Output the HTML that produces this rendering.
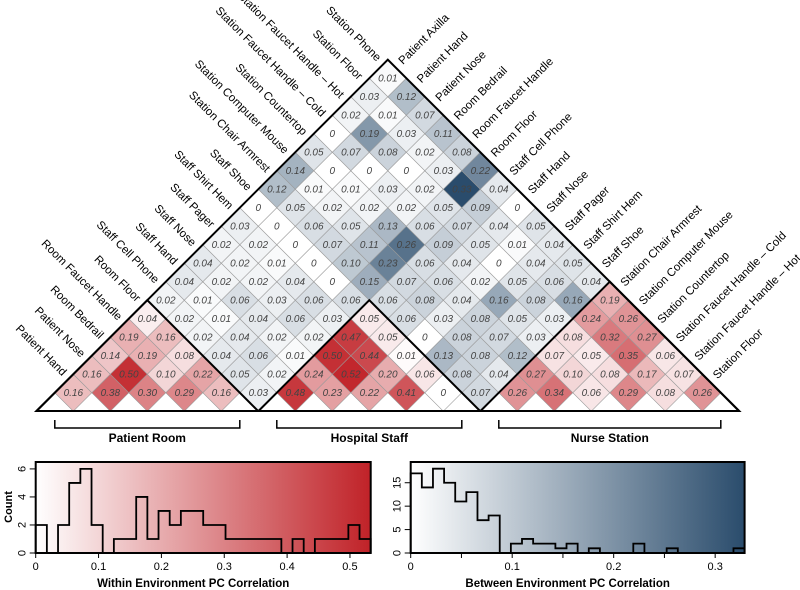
<!DOCTYPE html>
<html><head><meta charset="utf-8"><style>
html,body{margin:0;padding:0;background:#fff;}
svg{display:block;font-family:"Liberation Sans",sans-serif;}
</style></head><body>
<svg id="chart" width="800" height="590" viewBox="0 0 800 590" xmlns="http://www.w3.org/2000/svg">
<defs>
<linearGradient id="redGrad" x1="0" x2="1" y1="0" y2="0"><stop offset="0" stop-color="#ffffff"/><stop offset="1" stop-color="rgb(192,34,40)"/></linearGradient>
<linearGradient id="blueGrad" x1="0" x2="1" y1="0" y2="0"><stop offset="0" stop-color="#ffffff"/><stop offset="1" stop-color="rgb(42,76,108)"/></linearGradient>
</defs>
<g id="cells"></g>
<g id="outlines"></g>
<g id="labels"></g>
<g id="groups"></g>
<g id="histL"></g>
<g id="histR"></g>
</svg>
<script>
const variables = ["Patient Axilla","Patient Hand","Patient Nose","Room Bedrail","Room Faucet Handle","Room Floor","Staff Cell Phone","Staff Hand","Staff Nose","Staff Pager","Staff Shirt Hem","Staff Shoe","Station Chair Armrest","Station Computer Mouse","Station Countertop","Station Faucet Handle \u2013 Cold","Station Faucet Handle \u2013 Hot","Station Floor","Station Phone"];
const groupNames = ["Patient Room","Hospital Staff","Nurse Station"];
const groupStart = [0,6,12];
const groupEnd = [5,11,18];
const row1 = [0.16,0.38,0.30,0.29,0.16,0.03,0.48,0.23,0.22,0.41,0,0.07,0.26,0.34,0.06,0.29,0.08,0.26];
const row2 = [0.16,0.50,0.10,0.22,0.05,0.02,0.24,0.52,0.20,0.06,0.08,0.04,0.27,0.10,0.08,0.17,0.07];
const row3 = [0.14,0.19,0.08,0.04,0.06,0.01,0.50,0.44,0.01,0.13,0.08,0.12,0.07,0.05,0.35,0.06];
const row4 = [0.19,0.16,0.02,0.04,0.02,0.02,0.47,0.05,0,0.08,0.07,0.03,0.08,0.32,0.27];
const row5 = [0.04,0.02,0.01,0.04,0.06,0.03,0.05,0.06,0.03,0.08,0.05,0.03,0.24,0.26];
const row6 = [0.02,0.01,0.06,0.03,0.06,0.06,0.06,0.08,0.04,0.16,0.08,0.16,0.19];
const row7 = [0.04,0.02,0.02,0.04,0,0.15,0.07,0.06,0.02,0.05,0.06,0.04];
const row8 = [0.04,0.02,0.01,0,0.10,0.23,0.06,0.04,0,0.04,0.05];
const row9 = [0.02,0.02,0,0.07,0.11,0.26,0.09,0.05,0.01,0.04];
const row10 = [0.03,0,0.06,0.05,0.13,0.06,0.07,0.04,0.05];
const row11 = [0,0.05,0.02,0.02,0.02,0.05,0.09,0];
const row12 = [0.12,0.01,0.01,0.03,0.02,0.33,0.04];
const row13 = [0.14,0,0,0,0.03,0.22];
const row14 = [0.05,0.07,0.08,0.02,0.08];
const row15 = [0,0.19,0.03,0.11];
const row16 = [0.02,0.01,0.07];
const row17 = [0.03,0.12];
const row18 = [0.01];
const withinCounts = [2,0,2,5,6,2,0,1,1,4,1,3,2,3,3,2,2,1,1,1,1,1,0,1,0,1,1,1,2,1];
const betweenCounts = [17,14,18,15,11,13,7,8,0,2,3,2,2,1,2,0,1,0,0,0,2,0,0,1,0,0,0,0,0,1];
const withinMax = 0.533;
const betweenMax = 0.329;
const withinXTicks = [0,0.1,0.2,0.3,0.4,0.5];
const betweenXTicks = [0,0.1,0.2,0.3];
const betweenMinorTicks = [0.05,0.15,0.25];
const withinYTicks = [0,2,4,6];
const betweenYTicks = [0,5,10,15];

const rows = [row1,row2,row3,row4,row5,row6,row7,row8,row9,row10,row11,row12,row13,row14,row15,row16,row17,row18];
const NS = "http://www.w3.org/2000/svg";
function mk(tag, attrs, parent){const e=document.createElementNS(NS,tag);for(const k in attrs)e.setAttribute(k,attrs[k]);parent.appendChild(e);return e;}
const X0=73.3, STEP=37, H=18.5, Y0=392.7, BASE=411;
function cx(i,j){return X0+(i+j-1)/2*STEP;}
function cy(i,j){return Y0-(j-i-1)*H;}
function groupOf(k){for(let g=0;g<3;g++)if(k>=groupStart[g]&&k<=groupEnd[g])return g;return -1;}
function mix(c,t){t=Math.max(0,Math.min(1,t));return `rgb(${Math.round(255+(c[0]-255)*t)},${Math.round(255+(c[1]-255)*t)},${Math.round(255+(c[2]-255)*t)})`;}
const RED=[192,34,40], BLUE=[42,76,108];

const cellsG=document.getElementById('cells');
rows.forEach((arr,ri)=>{const r=ri+1;arr.forEach((v,k)=>{
  const i=k,j=k+r,x=cx(i,j),y=cy(i,j);
  const within=groupOf(i)===groupOf(j);
  const fill=within?mix(RED,v/withinMax):mix(BLUE,v/betweenMax);
  const p=mk('path',{d:`M${x-H},${y}L${x},${y-H}L${x+H},${y}L${x},${y+H}Z`,fill:fill,stroke:'#9a9a9a','stroke-width':0.6},cellsG);
  
  
  const t=mk('text',{x:x,y:y+3.5,'text-anchor':'middle','font-size':10,'font-style':'italic',fill:'#444'},cellsG);
  t.textContent=v===0?'0':v.toFixed(2);
  
  
});});

const outG=document.getElementById('outlines');
function tri(a,b,name){const ax=cx(a,b),ay=cy(a,b)-H,hw=BASE-ay;
  const p=mk('path',{d:`M${ax-hw},${BASE}L${ax},${ay}L${ax+hw},${BASE}Z`,fill:'none',stroke:'#000','stroke-width':2,'stroke-linejoin':'miter'},outG);
  
  }
tri(0,18,'outer-triangle');
for(let g=0;g<3;g++)tri(groupStart[g],groupEnd[g],'group-triangle');

const labG=document.getElementById('labels');
for(let j=1;j<19;j++){const x=cx(0,j)-H/2-2,y=cy(0,j)-H/2-7;
  const t=mk('text',{x:x,y:y,'text-anchor':'end','font-size':11.5,fill:'#000',transform:`rotate(45 ${x} ${y})`},labG);
  t.textContent=variables[j];
  
  }
for(let i=0;i<18;i++){const x=cx(i,18)+H/2+6,y=cy(i,18)-H/2-4;
  const t=mk('text',{x:x,y:y,'text-anchor':'start','font-size':11.5,fill:'#000',transform:`rotate(-45 ${x} ${y})`},labG);
  t.textContent=variables[i];
  
  }

const grG=document.getElementById('groups');
for(let g=0;g<3;g++){const a=groupStart[g],b=groupEnd[g];
  const x1=cx(a,a+1)-H,x2=cx(b-1,b)+H;
  const p=mk('path',{d:`M${x1},420L${x1},428L${x2},428L${x2},420`,fill:'none',stroke:'#000','stroke-width':1.5},grG);
  
  
  const t=mk('text',{x:(x1+x2)/2,y:442,'text-anchor':'middle','font-size':12,'font-weight':'bold'},grG);
  t.textContent=groupNames[g];
  
  }

function hist(gid,counts,vmax,left,right,grad,xt,minor,yt,ymax,title,showCount){
  const G=document.getElementById(gid);const top=462,bot=553;
  const xs=v=>left+v/vmax*(right-left);const ys=c=>bot-c/ymax*(bot-top-2);
  const bg=mk('rect',{x:left,y:top,width:right-left,height:bot-top,fill:`url(#${grad})`},G);
  
  
  const bw=(right-left)/counts.length;let d=`M${left},${bot}`;
  counts.forEach((c,k)=>{const xa=left+k*bw,xb=xa+bw;d+=`L${xa},${ys(c)}L${xb},${ys(c)}`;});
  d+=`L${right},${bot}`;
  const p=mk('path',{d:d,fill:'none',stroke:'#000','stroke-width':1.8},G);
  
  
  const box=mk('rect',{x:left,y:top,width:right-left,height:bot-top,fill:'none',stroke:'#000','stroke-width':2},G);
  
  
  xt.forEach(v=>{const x=xs(v);mk('line',{x1:x,x2:x,y1:bot,y2:bot+5,stroke:'#000','stroke-width':1},G);
    const t=mk('text',{x:x,y:bot+17,'text-anchor':'middle','font-size':11},G);t.textContent=String(v);
    
    });
  minor.forEach(v=>{const x=xs(v);mk('line',{x1:x,x2:x,y1:bot,y2:bot+5,stroke:'#000','stroke-width':1},G);});
  yt.forEach(c=>{const y=ys(c);mk('line',{x1:left-6,x2:left,y1:y,y2:y,stroke:'#000','stroke-width':1},G);
    const t=mk('text',{x:left-10,y:y,'text-anchor':'middle','font-size':11,transform:`rotate(-90 ${left-10} ${y})`},G);t.textContent=String(c);
    
    });
  const tt=mk('text',{x:(left+right)/2-10,y:587,'text-anchor':'middle','font-size':11.5,'font-weight':'bold'},G);tt.textContent=title;
  
  
  if(showCount){const c=mk('text',{x:12,y:507,'text-anchor':'middle','font-size':11,'font-weight':'bold',transform:'rotate(-90 12 507)'},G);c.textContent='Count';
    
    }
}
hist('histL',withinCounts,withinMax,35.7,370.7,'redGrad',withinXTicks,[],withinYTicks,6.35,'Within Environment PC Correlation',true);
hist('histR',betweenCounts,betweenMax,410.7,744.6,'blueGrad',betweenXTicks,betweenMinorTicks,betweenYTicks,19,'Between Environment PC Correlation',false);
</script>
</body></html>
